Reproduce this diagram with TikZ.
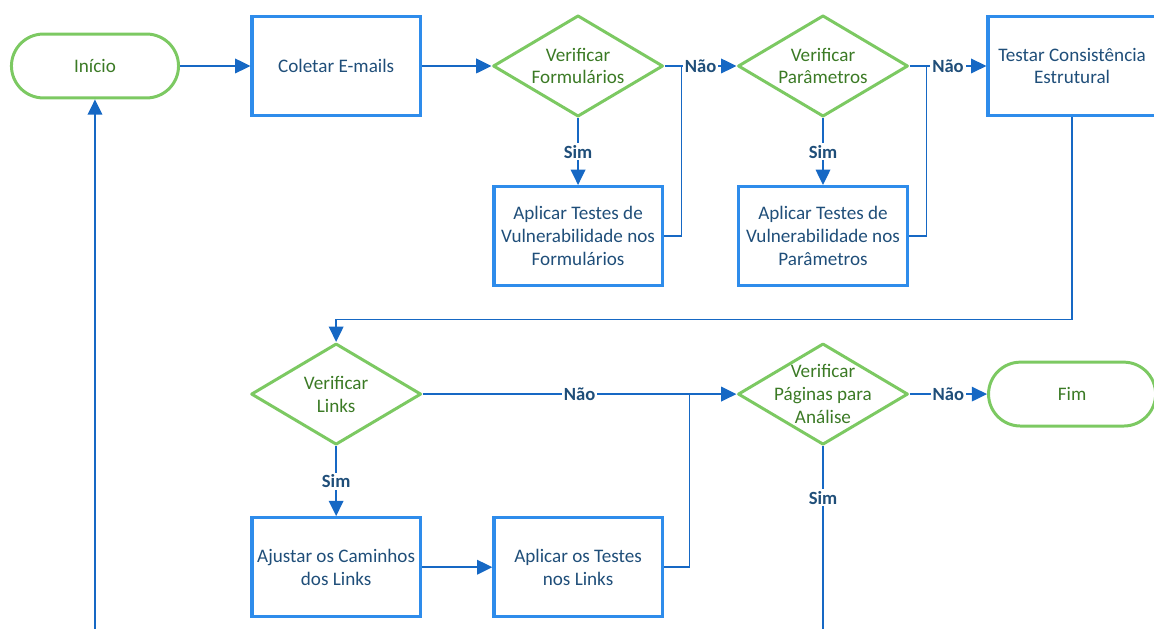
\documentclass[tikz,border=0pt]{standalone}
\usepackage{fontspec}
\setmainfont{Carlito}
\usepackage{tikz}
\usetikzlibrary{shapes.geometric, arrows.meta}
\definecolor{termgreen}{HTML}{7CC962}
\definecolor{greentext}{HTML}{3B7A25}
\definecolor{boxblue}{HTML}{2E8CEB}
\definecolor{linkblue}{HTML}{1668C4}
\definecolor{navytext}{HTML}{1F4E79}
\tikzstyle{startstop} = [rectangle, rounded corners=0.845cm, minimum width=4.42cm, minimum height=1.69cm, text centered, draw=termgreen, line width=2.25pt, text=greentext]
\tikzstyle{process} = [rectangle, minimum width=4.45cm, minimum height=2.62cm, align=center, draw=boxblue, line width=2.4pt, text=navytext]
\tikzstyle{decision} = [diamond, minimum width=4.5cm, minimum height=2.68cm, inner sep=-1cm, align=center, draw=termgreen, line width=2.25pt, line join=round, text=greentext]
\tikzstyle{connector} = [line width=1.1pt, draw=linkblue]
\tikzstyle{arrow} = [connector, -{Triangle[length=11.5pt,width=11pt]}]
\tikzstyle{answer} = [fill=white, text=navytext, font=\fontsize{14}{16}\selectfont\bfseries, inner sep=1.5pt]

\begin{document}
\begin{tikzpicture}[node distance=4.5cm, font=\fontsize{14.4}{17.25}\selectfont]
        \useasboundingbox (0,0) rectangle (30.53,-16.64);

        \node (start) [startstop] at (2.513,-1.746) {Início};
        \node (Coletar) [process, right of=start, xshift=1.88cm] {Coletar E-mails};
        \node (FormCheck) [decision, right of=Coletar, xshift=1.9cm] {Verificar\\Formulários};
        \node (ParamCheck) [decision, right of=FormCheck, xshift=1.98cm] {Verificar\\Parâmetros};
        \node (Estrutura) [process, right of=ParamCheck, xshift=2.09cm] {Testar Consistência\\Estrutural};
        \node (FormTest) [process, below of=FormCheck] {Aplicar Testes de\\Vulnerabilidade nos\\Formulários};
        \node (ParamTest) [process, below of=ParamCheck] {Aplicar Testes de\\Vulnerabilidade nos\\Parâmetros};
        \node (LinksCheck) [decision, below of=Coletar, yshift=-4.18cm] {Verificar\\Links};
        \node (Ajustar) [process, below of=LinksCheck, yshift=-0.08cm] {Ajustar os Caminhos\\dos Links};
        \node (LinksTest) [process, right of=Ajustar, xshift=1.9cm] {Aplicar os Testes\\nos Links};
        \node (PagesCheck) [decision, right of=LinksCheck, xshift=8.38cm] {Verificar\\Páginas para\\Análise};
        \node (stop) [startstop, right of=PagesCheck, xshift=2.09cm] {Fim};
        \coordinate (LoopEnd) at (start |- 0,-17.5);
        \coordinate (PagesEnd) at (PagesCheck |- 0,-17.5);

        \draw [connector] (FormTest.east) -- ++(0.47cm,0) |- (FormCheck.east);
        \draw [connector] (ParamTest.east) -- ++(0.47cm,0) |- (ParamCheck.east);
        \draw [connector] (LinksTest.east) -- ++(0.68cm,0) |- (LinksCheck.east);

        \draw [arrow] (start) -- (Coletar);
        \draw [arrow] (Coletar) -- (FormCheck);
        \draw [arrow] (FormCheck) -- node[answer] {Não} (ParamCheck);
        \draw [arrow] (FormCheck) -- node[answer] {Sim} (FormTest);
        \draw [arrow] (ParamCheck) -- node[answer] {Não} (Estrutura);
        \draw [arrow] (ParamCheck) -- node[answer] {Sim} (ParamTest);
        \draw [arrow] (Estrutura.south) -- ++(0,-5.36cm) -| (LinksCheck.north);
        \draw [arrow] (LinksCheck) -- node[answer] {Não} (PagesCheck);
        \draw [arrow] (LinksCheck) -- node[answer] {Sim} (Ajustar);
        \draw [arrow] (Ajustar) -- (LinksTest);
        \draw [arrow] (PagesCheck) -- node[answer] {Não} (stop);
        \draw [connector] (PagesCheck.south) -- node[answer, pos=0.24] {Sim} (PagesEnd);
        \draw [arrow] (LoopEnd) -- (start.south);

\end{tikzpicture}
\end{document}
